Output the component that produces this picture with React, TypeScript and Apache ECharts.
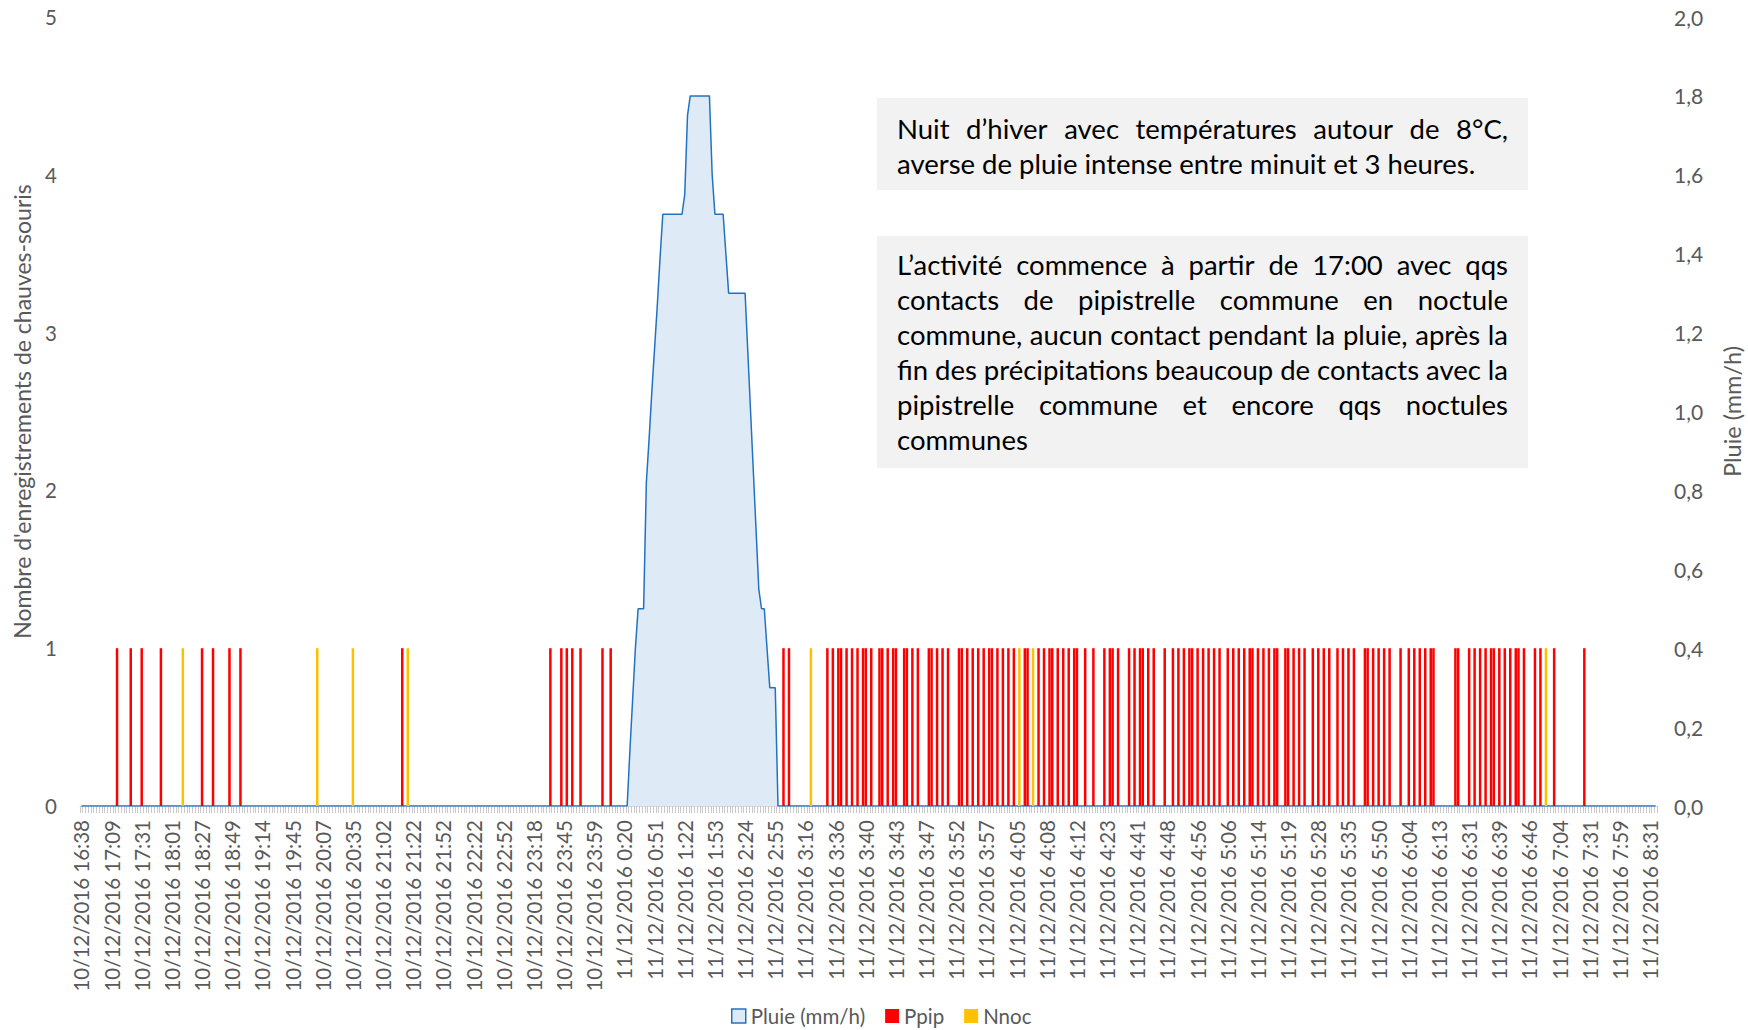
import React, { useEffect, useRef } from "react";
import * as echarts from "echarts";

// ---- data ----
const tickLabels = [
  "10/12/2016 16:38", "10/12/2016 17:09", "10/12/2016 17:31", "10/12/2016 18:01",
  "10/12/2016 18:27", "10/12/2016 18:49", "10/12/2016 19:14", "10/12/2016 19:45",
  "10/12/2016 20:07", "10/12/2016 20:35", "10/12/2016 21:02", "10/12/2016 21:22",
  "10/12/2016 21:52", "10/12/2016 22:22", "10/12/2016 22:52", "10/12/2016 23:18",
  "10/12/2016 23:45", "10/12/2016 23:59", "11/12/2016 0:20", "11/12/2016 0:51",
  "11/12/2016 1:22", "11/12/2016 1:53", "11/12/2016 2:24", "11/12/2016 2:55",
  "11/12/2016 3:16", "11/12/2016 3:36", "11/12/2016 3:40", "11/12/2016 3:43",
  "11/12/2016 3:47", "11/12/2016 3:52", "11/12/2016 3:57", "11/12/2016 4:05",
  "11/12/2016 4:08", "11/12/2016 4:12", "11/12/2016 4:23", "11/12/2016 4:41",
  "11/12/2016 4:48", "11/12/2016 4:56", "11/12/2016 5:06", "11/12/2016 5:14",
  "11/12/2016 5:19", "11/12/2016 5:28", "11/12/2016 5:35", "11/12/2016 5:50",
  "11/12/2016 6:04", "11/12/2016 6:13", "11/12/2016 6:31", "11/12/2016 6:39",
  "11/12/2016 6:46", "11/12/2016 7:04", "11/12/2016 7:31", "11/12/2016 7:59",
  "11/12/2016 8:31",
];
const LABEL_STEP = 11;
const CATEGORY_COUNT = 575;

// category indices holding one recording (value 1)
const ppipIdx = [
  13, 18, 22, 29, 44, 48, 54, 58, 117, 171, 175, 177, 179, 182, 190, 193, 256, 258,
  272, 274, 276, 277, 279, 281, 283, 285, 286, 288, 291, 292, 294, 296, 297, 300,
  301, 303, 305, 309, 310, 312, 314, 316, 320, 321, 323, 325, 327, 329, 331, 332,
  334, 336, 338, 340, 344, 345, 349, 351, 353, 354, 356, 358, 360, 362, 363, 366,
  369, 373, 375, 376, 378, 382, 384, 386, 387, 389, 391, 395, 398, 400, 402, 404,
  405, 407, 409, 411, 413, 415, 418, 420, 422, 424, 426, 427, 429, 431, 433, 435,
  436, 439, 440, 442, 444, 446, 449, 451, 453, 455, 458, 460, 462, 464, 468, 469,
  471, 473, 475, 477, 481, 484, 486, 488, 490, 492, 493, 501, 502, 506, 508, 510,
  512, 514, 515, 517, 519, 521, 523, 524, 526, 530, 532, 537, 548,
];
const nnocIdx = [37, 86, 99, 119, 266, 342, 347, 534];

// rain (mm/h), starting at category rainStartIdx; zero elsewhere
const rainStartIdx = 199;
const rainValues = [
  0, 0.14, 0.27, 0.4, 0.5, 0.5, 0.5, 0.82, 0.93, 1.05, 1.16, 1.27, 1.39, 1.5,
  1.5, 1.5, 1.5, 1.5, 1.5, 1.5, 1.5, 1.55, 1.75, 1.8, 1.8, 1.8, 1.8, 1.8, 1.8,
  1.8, 1.8, 1.6, 1.5, 1.5, 1.5, 1.5, 1.4, 1.3, 1.3, 1.3, 1.3, 1.3, 1.3, 1.3,
  1.15, 1.0, 0.85, 0.7, 0.55, 0.5, 0.5, 0.4, 0.3, 0.3, 0.3, 0,
];

const noteTop = [
  "Nuit d’hiver avec températures autour de 8°C,",
  "averse de pluie intense entre minuit et 3 heures.",
];
const noteBottom = [
  "L’activité commence à partir de 17:00 avec qqs",
  "contacts de pipistrelle commune en noctule",
  "commune, aucun contact pendant la pluie, après la",
  "fin des précipitations beaucoup de contacts avec la",
  "pipistrelle commune et encore qqs noctules",
  "communes",
];

const FONT = "Lato";
const NOTE_SIZE = 27.5;
const NOTE_COLOR = "#000000";

function measure(text: string, size: number): number {
  const ctx = document.createElement("canvas").getContext("2d")!;
  ctx.font = `${size}px ${FONT}`;
  return ctx.measureText(text).width;
}

function lineElements(line: string, x: number, y: number, width: number, justify: boolean) {
  if (!justify) {
    return [{
      type: "text", x, y,
      style: { text: line, fontSize: NOTE_SIZE, fontFamily: FONT, fill: NOTE_COLOR, verticalAlign: "middle", align: "left" },
    }];
  }
  const words = line.split(" ");
  const widths = words.map((w) => measure(w, NOTE_SIZE));
  const total = widths.reduce((a, b) => a + b, 0);
  const gap = words.length > 1 ? (width - total) / (words.length - 1) : 0;
  const out: any[] = [];
  let cx = x;
  words.forEach((w, i) => {
    out.push({
      type: "text", x: cx, y,
      style: { text: w, fontSize: NOTE_SIZE, fontFamily: FONT, fill: NOTE_COLOR, verticalAlign: "middle", align: "left" },
    });
    cx += widths[i] + gap;
  });
  return out;
}

function buildNote(lines: string[], boxX: number, boxY: number, boxW: number, boxH: number, firstY: number, lineH: number) {
  const textX = boxX + 20;
  const textW = boxW - 40;
  const children: any[] = [{
    type: "rect", shape: { x: boxX, y: boxY, width: boxW, height: boxH },
    style: { fill: "#F2F2F2" }, silent: true,
  }];
  lines.forEach((l, i) => {
    children.push(...lineElements(l, textX, firstY + i * lineH, textW, i < lines.length - 1));
  });
  return children;
}

export default function App() {
  const ref = useRef<HTMLDivElement>(null);
  useEffect(() => {
    if (!ref.current) return;
    const chart = echarts.init(ref.current, undefined, { renderer: "svg" });

    const categories = Array.from({ length: CATEGORY_COUNT }, (_, i) =>
      i % LABEL_STEP === 0 ? tickLabels[i / LABEL_STEP] : ""
    );
    const rain = Array.from({ length: CATEGORY_COUNT }, (_, i) => {
      const k = i - rainStartIdx;
      return k >= 0 && k < rainValues.length ? rainValues[k] : 0;
    });
    const ppip: any[] = Array(CATEGORY_COUNT).fill("-");
    ppipIdx.forEach((i) => (ppip[i] = 1));
    const nnoc: any[] = Array(CATEGORY_COUNT).fill("-");
    nnocIdx.forEach((i) => (nnoc[i] = 1));

    const labelColor = "#595959";

    chart.setOption({
      animation: false,
      textStyle: { fontFamily: FONT },
      grid: { left: 80, right: 91, top: 17, bottom: 224, containLabel: false, outerBoundsMode: "none" },
      legend: {
        top: 1005,
        left: 731,
        itemWidth: 14,
        itemHeight: 14,
        itemGap: 20,
        padding: 0,
        textStyle: { fontSize: 20.5, color: labelColor, fontFamily: FONT, lineHeight: 22 },
        data: [
          { name: "Pluie (mm/h)", icon: "rect", itemStyle: { color: "#DEEBF7", borderColor: "#2272C3", borderWidth: 1.5 } },
          { name: "Ppip", icon: "rect" },
          { name: "Nnoc", icon: "rect" },
        ],
      },
      xAxis: {
        type: "category",
        data: categories,
        boundaryGap: true,
        axisLine: { lineStyle: { color: "#D9D9D9", width: 1 } },
        axisTick: { show: true, interval: 0, length: 7, lineStyle: { color: "#C8C8C8" } },
        axisLabel: { interval: LABEL_STEP - 1, rotate: 90, fontSize: 20.5, color: labelColor, margin: 14, fontFamily: FONT },
        splitLine: { show: false },
      },
      yAxis: [
        {
          type: "value", min: 0, max: 5, interval: 1,
          name: "Nombre d'enregistrements de chauves-souris",
          nameLocation: "middle", nameGap: 47,
          nameTextStyle: { fontSize: 23, color: labelColor, fontFamily: FONT },
          axisLine: { show: false }, axisTick: { show: false }, splitLine: { show: false },
          axisLabel: { fontSize: 20.5, color: labelColor, margin: 23, fontFamily: FONT },
        },
        {
          type: "value", min: 0, max: 2, interval: 0.2, position: "right",
          name: "Pluie (mm/h)",
          nameLocation: "middle", nameGap: 63,
          nameTextStyle: { fontSize: 23.5, color: labelColor, fontFamily: FONT },
          axisLine: { show: false }, axisTick: { show: false }, splitLine: { show: false },
          axisLabel: {
            fontSize: 21, color: labelColor, margin: 17, fontFamily: FONT,
            formatter: (v: number) => v.toFixed(1).replace(".", ","),
          },
        },
      ],
      series: [
        {
          name: "Pluie (mm/h)", type: "line", yAxisIndex: 1, data: rain,
          symbol: "none", showSymbol: false,
          lineStyle: { color: "#2272C3", width: 1.5 },
          itemStyle: { color: "#2272C3" },
          areaStyle: { color: "#DEEBF7", opacity: 1 },
          z: 1,
        },
        {
          name: "Ppip", type: "bar", data: ppip, barWidth: 2.5, barGap: "-100%",
          itemStyle: { color: "#FF0000" }, z: 2,
        },
        {
          name: "Nnoc", type: "bar", data: nnoc, barWidth: 2.5, barGap: "-100%",
          itemStyle: { color: "#FFC000" }, z: 2,
        },
      ],
      graphic: [
        { type: "group", children: buildNote(noteTop, 877, 98, 651, 92, 128, 35), z: 10 },
        { type: "group", children: buildNote(noteBottom, 877, 236, 651, 232, 264, 35), z: 10 },
      ],
    });
    return () => chart.dispose();
  }, []);
  return <div ref={ref} style={{ width: 1748, height: 1030, position: "absolute", left: 0, top: 0 }} />;
}
